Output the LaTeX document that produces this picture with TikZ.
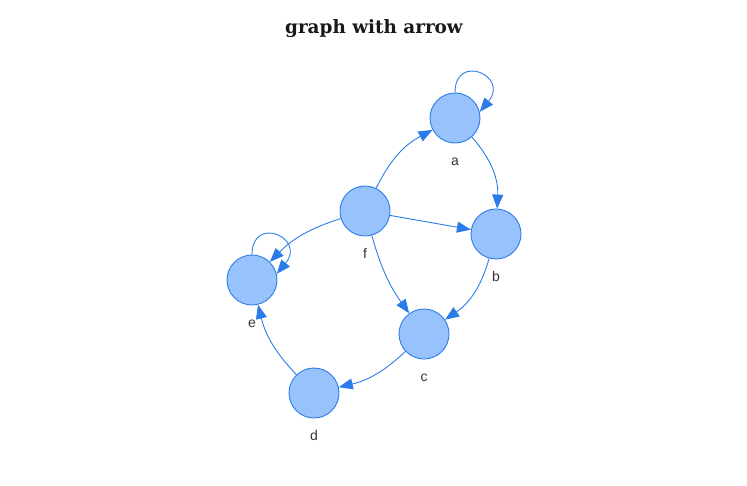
\documentclass[tikz,border=0pt]{standalone}
\usepackage{fontspec}
\setmainfont{DejaVu Serif}
\newfontfamily\labelfont{Liberation Sans}
\definecolor{visblue}{HTML}{2B7CE9}
\definecolor{visfill}{HTML}{97C2FC}
\definecolor{vislabel}{HTML}{343434}
\usetikzlibrary{arrows.meta,positioning}

\begin{document}
\begin{tikzpicture}[x=1pt, y=1pt,
  vertex/.style={circle, draw=visblue, fill=visfill, line width=0.9pt, minimum size=50pt, inner sep=0pt},
  vlabel/.style={font=\labelfont\fontsize{14}{16}\selectfont, text=vislabel, inner sep=0pt, text height=10pt, text depth=0pt},
  edge/.style={draw=visblue, line width=0.9pt, -{Triangle[length=14pt,width=11pt]}},
  node distance=12pt]
\useasboundingbox (0,0) rectangle (747,-485);
\node[font=\bfseries\fontsize{18.4}{22}\selectfont, text=black!90, anchor=base] (title) at (374,-33) {graph with arrow};
\node[vertex] (a) at (455,-118) {};
\node[vertex] (b) at (496,-234) {};
\node[vertex] (c) at (424,-334) {};
\node[vertex] (d) at (314,-393) {};
\node[vertex] (e) at (252,-280) {};
\node[vertex] (f) at (365,-211) {};
\node[vlabel, below=of a] (la) {a};
\node[vlabel, below=of b] (lb) {b};
\node[vlabel, below=of c] (lc) {c};
\node[vlabel, below=of d] (ld) {d};
\node[vlabel, below=of e] (le) {e};
\node[vlabel, below=of f] (lf) {f};
\draw[edge] (a.90) .. controls +(0,40) and +(30,36) .. (a.14);
\draw[edge] (e.90) .. controls +(0,40) and +(30,36) .. (e.14);
\draw[edge] (f) to[bend left=18] (a);
\draw[edge] (a) to[bend left=22] (b);
\draw[edge] (f) -- (b);
\draw[edge] (f) to[bend right=10] (c);
\draw[edge] (f) to[bend right=14] (e);
\draw[edge] (b) to[bend left=20] (c);
\draw[edge] (c) to[bend left=15] (d);
\draw[edge] (d) to[bend left=15] (e);
\end{tikzpicture}
\end{document}
